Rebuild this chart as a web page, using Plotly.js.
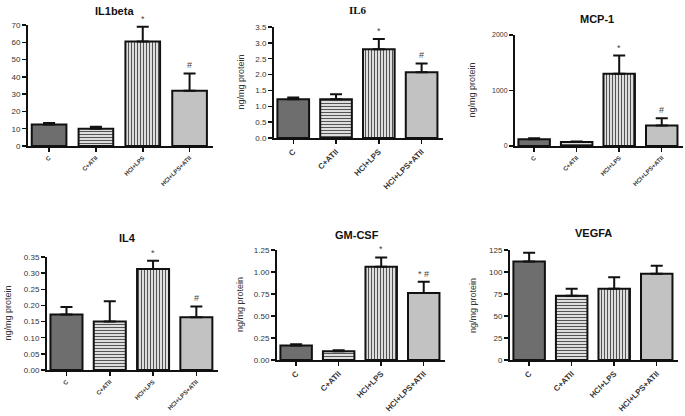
<!DOCTYPE html>
<html><head><meta charset="utf-8">
<script src="https://cdn.plot.ly/plotly-3.0.1.min.js"></script>
<style>html,body{margin:0;padding:0;background:#fff}#chart{width:685px;height:416px}</style>
</head><body><div id="chart"></div>
<script>
const groups = ["C", "C+ATII", "HCl+LPS", "HCl+LPS+ATII"];
const titles = ["IL1beta", "IL6", "MCP-1", "IL4", "GM-CSF", "VEGFA"];
const il1beta = [12.5, 10, 60.5, 32];
const il1betaErr = [0.8, 1.2, 8.5, 10];
const il6 = [1.22, 1.22, 2.8, 2.07];
const il6Err = [0.06, 0.16, 0.32, 0.28];
const mcp1 = [120, 70, 1300, 370];
const mcp1Err = [20, 10, 330, 130];
const il4 = [0.172, 0.15, 0.313, 0.163];
const il4Err = [0.023, 0.063, 0.025, 0.034];
const gmcsf = [0.165, 0.1, 1.06, 0.76];
const gmcsfErr = [0.015, 0.01, 0.105, 0.13];
const vegfa = [112, 73, 81, 98];
const vegfaErr = [10, 8, 13, 9];
const marks = [["", "", "*", "#"], ["", "", "*", "#"], ["", "", "*", "#"], ["", "", "*", "#"], ["", "", "*", "* #"], ["", "", "", ""]];
const yMax = [70, 3.5, 2000, 0.35, 1.25, 125];
const yDtick = [10, 0.5, 1000, 0.05, 0.25, 25];
const yFmt = ["", ".1f", "", ".2f", ".2f", ""];
const yLabels = ["", "ng/mg protein", "ng/mg protein", "ng/mg protein", "ng/mg protein", "ng/mg protein"];

const series = [[il1beta, il1betaErr], [il6, il6Err], [mcp1, mcp1Err], [il4, il4Err], [gmcsf, gmcsfErr], [vegfa, vegfaErr]];

const W = 685, H = 416;
const boxes = [[28, 213, 146, 25], [274, 443, 138, 27], [515, 683, 146, 35],
               [47, 218, 370, 257], [277, 445, 360, 250], [510, 678, 360, 250]];
const titlePos = [[115, 11], [358, 10], [597, 19], [128, 238], [357, 235], [593, 233]];
const ylabX = [0, 240, 472, 7, 240, 473];

const traces = [], layout = {
  width: W, height: H, margin: {l: 0, r: 0, t: 0, b: 0},
  paper_bgcolor: "#fff", plot_bgcolor: "#fff", showlegend: false,
  font: {family: "Arial, Liberation Sans, sans-serif", color: "#222"},
  annotations: []
};

series.forEach((s, i) => {
  const n = i + 1;
  const xa = "x" + (n === 1 ? "" : n), ya = "y" + (n === 1 ? "" : n);
  const vals = s[0], errs = s[1];
  traces.push({
    type: "bar", x: groups, y: vals, xaxis: xa, yaxis: ya, width: 0.74,
    marker: {
      color: ["#6e6e6e", "#dedede", "#dedede", "#c2c2c2"],
      line: {color: "#111", width: 2},
      pattern: {shape: ["", "-", "|", ""], fgcolor: "#a6a6a6", fgopacity: 1,
                size: 3, solidity: 0.3, fillmode: "overlay"}
    },
    error_y: {type: "data", symmetric: false, array: errs, arrayminus: errs.map(() => 0),
              color: "#111", thickness: 2, width: 6},
    hoverinfo: "none"
  });
  const b = boxes[i];
  const key = n === 1 ? "" : n;
  const small = (i === 0 || i === 2 || i === 3);
  layout["xaxis" + key] = {
    domain: [b[0] / W, b[1] / W], anchor: ya, range: [-0.45, 3.5],
    showline: true, linecolor: "#111", linewidth: 2, ticks: "outside", ticklen: 4, tickwidth: 1.5, tickcolor: "#111",
    tickangle: -45, tickfont: {size: small ? 6 : 8, color: "#333", weight: "bold"},
    showgrid: false, zeroline: false, fixedrange: true
  };
  layout["yaxis" + key] = {
    domain: [1 - b[2] / H, 1 - b[3] / H], anchor: xa, range: [0, yMax[i]], dtick: yDtick[i], tickformat: yFmt[i],
    showline: true, linecolor: "#111", linewidth: 2, ticks: "outside", ticklen: 4, tickwidth: 1.5, tickcolor: "#111",
    tickfont: {size: (i === 2) ? 7 : 8, color: "#333"}, showgrid: false, zeroline: false, fixedrange: true
  };
  layout.annotations.push({
    xref: "paper", yref: "paper", x: titlePos[i][0] / W, y: 1 - titlePos[i][1] / H, showarrow: false,
    text: "<b>" + titles[i] + "</b>", xanchor: "center", yanchor: "middle",
    font: {size: 11, color: "#111", family: i === 1 ? "Liberation Serif, serif" : "Arial, Liberation Sans, sans-serif"}
  });
  if (yLabels[i]) {
    layout.annotations.push({
      xref: "paper", yref: "paper", x: ylabX[i] / W, y: 1 - (b[2] + b[3]) / 2 / H, showarrow: false,
      text: yLabels[i], textangle: -90, xanchor: "center", yanchor: "middle",
      font: {size: 9, color: "#333"}
    });
  }
  marks[i].forEach((m, j) => {
    if (!m) return;
    layout.annotations.push({
      xref: xa, yref: ya, x: groups[j], y: vals[j] + errs[j], showarrow: false, text: m,
      xanchor: "center", yanchor: "bottom", yshift: 1, font: {size: 9, color: "#444"}
    });
  });
});

Plotly.newPlot("chart", traces, layout, {displayModeBar: false, staticPlot: true});
</script></body></html>
